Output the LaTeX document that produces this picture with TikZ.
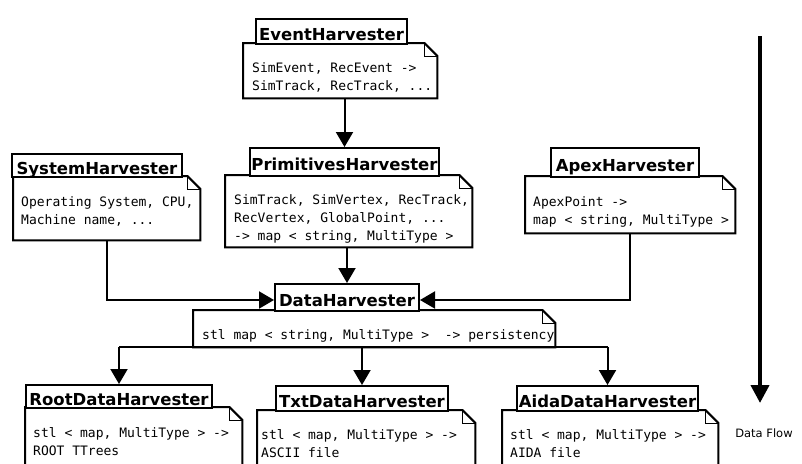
\documentclass[tikz,border=0pt]{standalone}
\usepackage{fontspec}
\setmainfont{DejaVu Sans}
\newfontfamily\codefont{DejaVu Sans Mono}
\usetikzlibrary{arrows.meta}

\tikzset{
  titlebox/.style={draw, line width=2pt, fill=white, inner sep=0pt, anchor=north west,
    font=\fontsize{16.5pt}{18pt}\selectfont\bfseries, text height=17pt, text depth=0pt},
  notearea/.style={inner sep=0pt, anchor=north west},
  notetext/.style={inner sep=0pt, anchor=north west, align=left,
    font=\codefont\fontsize{13pt}{18pt}\selectfont},
  noteline/.style={line width=2pt, line join=miter},
  foldline/.style={line width=1pt},
  arr/.style={line width=2pt, -{Triangle[length=15pt,width=17pt]}},
  plain/.style={line width=2pt},
  flowarr/.style={line width=4pt, -{Triangle[length=18pt,width=18pt]}},
}

% outline of a note with a folded top-right corner
\newcommand\noteoutline[1]{%
  \fill[white] (#1.south west) -- (#1.north west) -- ([xshift=-13pt]#1.north east)
    -- ([yshift=-13pt]#1.north east) -- (#1.south east) -- cycle;
  \draw[noteline] (#1.south west) -- (#1.north west) -- ([xshift=-13pt]#1.north east)
    -- ([yshift=-13pt]#1.north east) -- (#1.south east) -- cycle;
  \draw[foldline] ([xshift=-13pt]#1.north east) |- ([yshift=-13pt]#1.north east);
}

\begin{document}
\begin{tikzpicture}[x=1pt, y=-1pt]
\clip (0,0) rectangle (802,463);
\fill[white] (0,0) rectangle (802,463);

% ---------- EventHarvester ----------
\node[notearea, minimum width=194pt, minimum height=55pt] (evN) at (243,43) {};
\noteoutline{evN}
\node[notetext] (evX) at ([shift={(9pt,-19pt)}]evN.north west)
  {SimEvent, RecEvent ->\\SimTrack, RecTrack, ...};
\node[titlebox, minimum width=151pt, minimum height=25pt] (evT) at (255,18) {EventHarvester};

% ---------- SystemHarvester ----------
\node[notearea, minimum width=187pt, minimum height=64pt] (sysN) at (13,176) {};
\noteoutline{sysN}
\node[notetext] (sysX) at ([shift={(8pt,-20pt)}]sysN.north west)
  {Operating System, CPU,\\Machine name, ...};
\node[titlebox, minimum width=170pt, minimum height=23pt] (sysT) at (11,153) {SystemHarvester};

% ---------- PrimitivesHarvester ----------
\node[notearea, minimum width=247pt, minimum height=72pt] (primN) at (225,175) {};
\noteoutline{primN}
\node[notetext] (primX) at ([shift={(9pt,-19pt)}]primN.north west)
  {SimTrack, SimVertex, RecTrack,\\RecVertex, GlobalPoint, ...\\-> map < string, MultiType >};
\node[titlebox, minimum width=189pt, minimum height=28pt] (primT) at (249,147) {PrimitivesHarvester};

% ---------- ApexHarvester ----------
\node[notearea, minimum width=210pt, minimum height=57pt] (apN) at (525,176) {};
\noteoutline{apN}
\node[notetext] (apX) at ([shift={(8pt,-20pt)}]apN.north west)
  {ApexPoint ->\\map < string, MultiType >};
\node[titlebox, minimum width=148pt, minimum height=29pt] (apT) at (550,147) {ApexHarvester};

% ---------- DataHarvester ----------
\node[notearea, minimum width=362pt, minimum height=37pt] (dataN) at (193,310) {};
\noteoutline{dataN}
\node[notetext] (dataX) at ([shift={(9pt,-19pt)}]dataN.north west)
  {stl map < string, MultiType >\ \ -> persistency};
\node[titlebox, minimum width=144pt, minimum height=27pt] (dataT) at (274,283) {DataHarvester};

% ---------- RootDataHarvester ----------
\node[notearea, minimum width=217pt, minimum height=70pt] (rootN) at (25,407) {};
\noteoutline{rootN}
\node[notetext] (rootX) at ([shift={(8pt,-20pt)}]rootN.north west)
  {stl < map, MultiType > ->\\ROOT TTrees};
\node[titlebox, minimum width=186pt, minimum height=23pt] (rootT) at (25,384) {RootDataHarvester};

% ---------- TxtDataHarvester ----------
\node[notearea, minimum width=218pt, minimum height=70pt] (txtN) at (257,410) {};
\noteoutline{txtN}
\node[notetext] (txtX) at ([shift={(4pt,-19pt)}]txtN.north west)
  {stl < map, MultiType > ->\\ASCII file};
\node[titlebox, minimum width=172pt, minimum height=25pt] (txtT) at (275,385) {TxtDataHarvester};

% ---------- AidaDataHarvester ----------
\node[notearea, minimum width=216pt, minimum height=70pt] (aidaN) at (502,410) {};
\noteoutline{aidaN}
\node[notetext] (aidaX) at ([shift={(8pt,-19pt)}]aidaN.north west)
  {stl < map, MultiType > ->\\AIDA file};
\node[titlebox, minimum width=181pt, minimum height=25pt] (aidaT) at (516,385) {AidaDataHarvester};

% ---------- connectors ----------
\draw[arr] (primT.north |- evN.south) -- (primT.north);
\draw[arr] (dataT.north |- primN.south) -- (dataT.north);
\draw[arr] (sysN.south) |- ([yshift=-2.5pt]dataT.west);
\draw[arr] (apN.south) |- ([yshift=-2.5pt]dataT.east);

\draw[plain] (rootT.north |- dataN.south) -- (aidaT.north |- dataN.south);
\draw[arr] (rootT.north |- dataN.south) -- (rootT.north);
\draw[arr] (txtT.north |- dataN.south) -- (txtT.north);
\draw[arr] (aidaT.north |- dataN.south) -- (aidaT.north);

% ---------- data flow direction ----------
\coordinate (flowTop) at (760,36);
\coordinate (flowTip) at (760,403);
\draw[flowarr] (flowTop) -- (flowTip);
\node[font=\fontsize{11.5pt}{13pt}\selectfont, inner sep=0pt] (flowLbl) at (764,433) {Data Flow};
\end{tikzpicture}
\end{document}
